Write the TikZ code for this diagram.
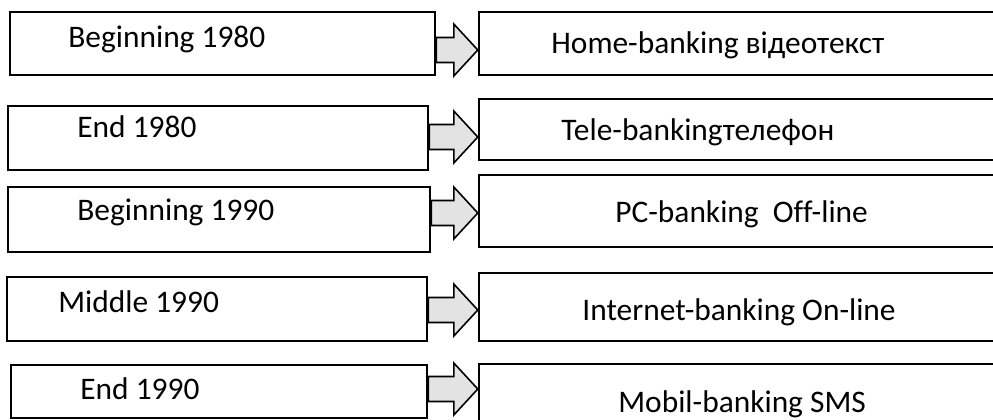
\documentclass[tikz,border=0pt]{standalone}
\usepackage{fontspec}
\setmainfont{Carlito}[Ligatures=CommonOff]
\usetikzlibrary{calc,fit}
\definecolor{cArrow}{HTML}{E3E3E3}
\tikzset{
  box/.style={draw=black,line width=1.2pt,inner sep=0pt},
  lbl/.style={anchor=base west,inner sep=0pt,font=\fontsize{15.7}{19}\selectfont},
  blockarrow/.style={draw=black,line width=.8pt,fill=cArrow,line join=miter,
    to path={($(\tikztostart)+(0,-12.5)$) -- ($(\tikztotarget)+(-24,-12.5)$)
      -- ($(\tikztotarget)+(-24,-26)$) -- (\tikztotarget)
      -- ($(\tikztotarget)+(-24,26)$) -- ($(\tikztotarget)+(-24,12.5)$)
      -- ($(\tikztostart)+(0,12.5)$) -- cycle}},
}

\begin{document}
\begin{tikzpicture}[x=0.5pt,y=-0.5pt]
  \useasboundingbox (0,0) rectangle (993,419);
  % periods
  \node[box,fit={(10,12) (435,75)}](l1){};
  \node[box,fit={(8,106) (428,170)}](l2){};
  \node[box,fit={(8,187) (430,252)}](l3){};
  \node[box,fit={(7,277) (427,341)}](l4){};
  \node[box,fit={(11,365) (427,418)}](l5){};
  \node[lbl](t1) at (68,47) {Beginning 1980};
  \node[lbl](t2) at (77,137) {End 1980};
  \node[lbl](t3) at (77,220) {Beginning 1990};
  \node[lbl](t4) at (58,312) {Middle 1990};
  \node[lbl](t5) at (80,399) {End 1990};
  % services
  \node[box,fit={(479,12) (1010,75)}](r1){};
  \node[box,fit={(479,99) (1010,160)}](r2){};
  \node[box,fit={(479,175) (1010,247)}](r3){};
  \node[box,fit={(479,273) (1010,341)}](r4){};
  \node[box,fit={(479,364) (1010,440)}](r5){};
  \node[lbl](s1) at (551,53) {Home-banking відеотекст};
  \node[lbl](s2) at (561,140) {Tele-bankingтелефон};
  \node[lbl](s3) at (615,222) {PC-banking\ \ Off-line};
  \node[lbl](s4) at (582,320) {Internet-banking On-line};
  \node[lbl](s5) at (618,412) {Mobil-banking SMS};
  % arrows
  \coordinate (a1) at ($(l1.east)+(0,6.5)$);  \coordinate (b1) at (r1.west |- a1);
  \coordinate (a2) at ($(l2.east)+(0,-1)$);   \coordinate (b2) at (r2.west |- a2);
  \coordinate (a3) at ($(l3.east)+(0,-6.5)$); \coordinate (b3) at (r3.west |- a3);
  \coordinate (a4) at ($(l4.east)+(0,1)$);    \coordinate (b4) at (r4.west |- a4);
  \coordinate (a5) at ($(l5.east)+(0,-2.5)$); \coordinate (b5) at (r5.west |- a5);
  \draw[blockarrow] (a1) to (b1);
  \draw[blockarrow] (a2) to (b2);
  \draw[blockarrow] (a3) to (b3);
  \draw[blockarrow] (a4) to (b4);
  \draw[blockarrow] (a5) to (b5);
\end{tikzpicture}
\end{document}
